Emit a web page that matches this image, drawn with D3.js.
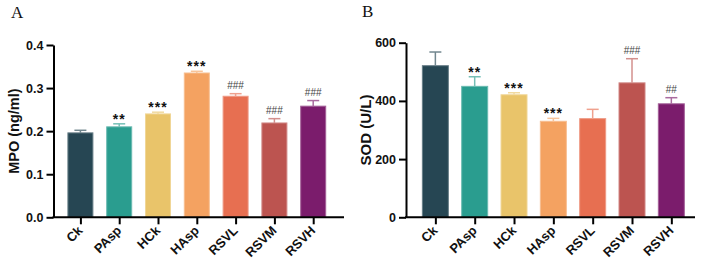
<!DOCTYPE html>
<html>
<head>
<meta charset="utf-8">
<script src="https://cdn.jsdelivr.net/npm/d3@7"></script>
<style>
  body { margin: 0; background: #fff; }
  svg { display: block; }
</style>
</head>
<body>
<div id="main"></div>
<script>
// groups and colours
var groups = ["Ck", "PAsp", "HCk", "HAsp", "RSVL", "RSVM", "RSVH"];
var barColors = ["#264653", "#2a9d8f", "#e9c46a", "#f4a261", "#e76f51", "#bc5450", "#7b1c6c"];

// panel A: MPO
var mpoMean = [0.196, 0.210, 0.240, 0.335, 0.281, 0.219, 0.258];
var mpoErr  = [0.006, 0.007, 0.004, 0.004, 0.006, 0.010, 0.013];
var mpoSig  = ["", "**", "***", "***", "###", "###", "###"];
var mpoTicks = [0, 0.1, 0.2, 0.3, 0.4];

// panel B: SOD
var sodMean = [521, 450, 421, 330, 339, 462, 390];
var sodErr  = [47, 33, 7, 10, 32, 83, 21];
var sodSig  = ["", "**", "***", "***", "", "###", "##"];
var sodTicks = [0, 200, 400, 600];

var ctx = {
    w: 702,
    h: 263,
    FONT: "'Liberation Sans', Arial, sans-serif",
};

var panels = [
    {letter: "A", title: "MPO (ng/ml)", mean: mpoMean, err: mpoErr, sig: mpoSig,
     ticks: mpoTicks, fmt: d3.format(".1f"), max: 0.4,
     axisX: 53.5, xEnd: 344, top: 45, bottom: 217.3, band: [61, 332.6], barW: 25,
     titleX: 19, titleSize: 14.5, letterX: 11, letterY: 18},
    {letter: "B", title: "SOD (U/L)", mean: sodMean, err: sodErr, sig: sodSig,
     ticks: sodTicks, fmt: d3.format("d"), max: 600,
     axisX: 406, xEnd: 695, top: 42.7, bottom: 217.3, band: [415.7, 691], barW: 26,
     titleX: 371, titleSize: 15, letterX: 362, letterY: 17}
];

var drawPanel = function(svg, p){
    var g = svg.append("g");
    var x = d3.scalePoint().domain(groups).range(p.band).padding(0.5);
    var y = d3.scaleLinear().domain([0, p.max]).range([p.bottom, p.top]);
    var data = groups.map(function(k, i){
        return {name: k, mean: p.mean[i], err: p.err[i], sig: p.sig[i], color: barColors[i]};
    });

    // bars
    g.selectAll("rect.bar")
        .data(data)
        .enter()
        .append("rect")
        .attr("class", "bar")
        .attr("x", function(d){ return x(d.name) - p.barW/2; })
        .attr("y", function(d){ return y(d.mean); })
        .attr("width", p.barW)
        .attr("height", function(d){ return y(0) - y(d.mean); })
        .style("fill", function(d){ return d.color; })
        .style("stroke", function(d){ return d3.interpolateRgb(d.color, "#fff")(0.3); })
        .style("stroke-width", 1);

    // error bars (upper only)
    var eb = g.selectAll("g.err")
        .data(data)
        .enter()
        .append("g")
        .attr("class", "err")
        .style("stroke", function(d){ return d3.interpolateRgb(d.color, "#fff")(0.35); })
        .style("stroke-width", 1.5);
    eb.append("line")
        .attr("x1", function(d){ return x(d.name); })
        .attr("x2", function(d){ return x(d.name); })
        .attr("y1", function(d){ return y(d.mean); })
        .attr("y2", function(d){ return y(d.mean + d.err); });
    eb.append("line")
        .attr("x1", function(d){ return x(d.name) - 6; })
        .attr("x2", function(d){ return x(d.name) + 6; })
        .attr("y1", function(d){ return y(d.mean + d.err); })
        .attr("y2", function(d){ return y(d.mean + d.err); });

    // significance marks
    g.selectAll("text.sig")
        .data(data.filter(function(d){ return d.sig !== ""; }))
        .enter()
        .append("text")
        .attr("class", "sig")
        .attr("x", function(d){ return x(d.name); })
        .attr("y", function(d){
            return y(d.mean + d.err) - (d.sig[0] === "*" ? 0 : 4.5);
        })
        .style("text-anchor", "middle")
        .style("font-family", ctx.FONT)
        .style("font-weight", function(d){ return d.sig[0] === "*" ? "bold" : "normal"; })
        .style("font-size", function(d){ return d.sig[0] === "*" ? "14px" : "10px"; })
        .style("letter-spacing", function(d){ return d.sig[0] === "*" ? "1px" : "0px"; })
        .style("fill", function(d){ return d.sig[0] === "*" ? "#111" : "#444"; })
        .text(function(d){ return d.sig; });

    // y axis
    var ya = g.append("g")
        .attr("transform", "translate(" + p.axisX + ",0)")
        .call(d3.axisLeft(y).tickValues(p.ticks).tickFormat(p.fmt)
            .tickSize(7).tickSizeOuter(0).tickPadding(3));
    ya.selectAll("path, line").style("stroke", "#000").style("stroke-width", 2);
    ya.selectAll("text")
        .style("font-family", ctx.FONT)
        .style("font-weight", "bold")
        .style("font-size", "12.5px")
        .style("fill", "#111");

    // x axis: ticks from the axis, labels drawn rotated below
    var xa = g.append("g")
        .attr("transform", "translate(0," + p.bottom + ")")
        .call(d3.axisBottom(x).tickSize(7).tickSizeOuter(0).tickFormat(""));
    xa.select(".domain").remove();
    xa.append("line")
        .attr("x1", p.axisX - 1)
        .attr("x2", p.xEnd)
        .attr("y1", 0)
        .attr("y2", 0);
    xa.selectAll("line").style("stroke", "#000").style("stroke-width", 2);

    var lab = g.selectAll("g.xlab")
        .data(groups)
        .enter()
        .append("g")
        .attr("class", "xlab")
        .attr("transform", function(d){
            return "translate(" + (x(d) + 3) + "," + (p.bottom + 14) + ")";
        });
    lab.append("text")
        .attr("transform", "rotate(-45)")
        .style("text-anchor", "end")
        .style("font-family", ctx.FONT)
        .style("font-weight", "bold")
        .style("font-size", "13px")
        .style("fill", "#111")
        .text(function(d){ return d; });

    // y-axis title
    g.append("text")
        .attr("transform", "translate(" + p.titleX + "," + ((p.top + p.bottom)/2) + ") rotate(-90)")
        .style("text-anchor", "middle")
        .style("font-family", ctx.FONT)
        .style("font-weight", "bold")
        .style("font-size", p.titleSize + "px")
        .style("fill", "#111")
        .text(p.title);

    // panel letter
    g.append("text")
        .attr("x", p.letterX)
        .attr("y", p.letterY)
        .style("font-family", "'Liberation Serif', 'Times New Roman', serif")
        .style("font-size", "17px")
        .style("fill", "#111")
        .text(p.letter);
};

var createViz = function(){
    var svgEl = d3.select("#main").append("svg")
        .attr("width", ctx.w)
        .attr("height", ctx.h);
    panels.forEach(function(p){ drawPanel(svgEl, p); });
};

createViz();
</script>
</body>
</html>
